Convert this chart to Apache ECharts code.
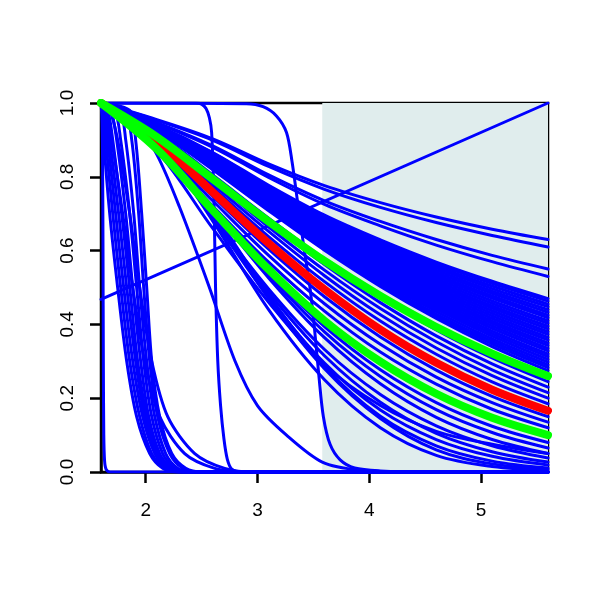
<!DOCTYPE html>
<html><head><meta charset="utf-8">
<script src="https://cdn.jsdelivr.net/npm/echarts@6/dist/echarts.min.js"></script>
<style>html,body{margin:0;padding:0;background:#fff}#c{width:600px;height:600px}</style>
</head><body><div id="c"></div>
<script>
// ---- data ----
const xGrid = [1.6, 2.1, 2.6, 3.1, 3.6, 4.1, 4.6, 5.1, 5.6];
const xTicks = [2, 3, 4, 5];
const yTicks = [0, 0.2, 0.4, 0.6, 0.8, 1.0];
const shadeRange = [3.58, 5.6];

// main band of blue curves (values at xGrid)
const bandCurves = [
  [1,0.955,0.903,0.835,0.776,0.730,0.691,0.658,0.63],
  [1,0.953,0.899,0.828,0.766,0.717,0.676,0.641,0.61],
  [1,0.947,0.884,0.805,0.735,0.679,0.630,0.587,0.55],
  [1,0.945,0.880,0.798,0.725,0.667,0.615,0.570,0.53],
  [1,0.940,0.866,0.777,0.696,0.629,0.569,0.517,0.47],
  [1,0.939,0.864,0.774,0.693,0.625,0.564,0.511,0.463],
  [1,0.938,0.862,0.771,0.689,0.620,0.558,0.504,0.455],
  [1,0.938,0.861,0.769,0.686,0.616,0.553,0.497,0.448],
  [1,0.937,0.859,0.766,0.682,0.611,0.547,0.490,0.44],
  [1,0.937,0.857,0.764,0.679,0.606,0.541,0.484,0.433],
  [1,0.936,0.855,0.761,0.675,0.601,0.535,0.477,0.425],
  [1,0.936,0.854,0.759,0.671,0.597,0.530,0.471,0.418],
  [1,0.935,0.852,0.756,0.667,0.592,0.524,0.464,0.41],
  [1,0.935,0.850,0.753,0.664,0.587,0.518,0.457,0.403],
  [1,0.934,0.848,0.750,0.660,0.582,0.512,0.450,0.395],
  [1,0.933,0.847,0.748,0.657,0.578,0.507,0.444,0.388],
  [1,0.932,0.845,0.745,0.653,0.573,0.501,0.437,0.38],
  [1,0.932,0.843,0.743,0.650,0.568,0.495,0.430,0.373],
  [1,0.931,0.841,0.740,0.646,0.563,0.489,0.423,0.365],
  [1,0.931,0.840,0.738,0.643,0.559,0.483,0.416,0.358],
  [1,0.930,0.838,0.735,0.639,0.554,0.477,0.409,0.35],
  [1,0.930,0.836,0.733,0.635,0.549,0.471,0.403,0.343],
  [1,0.929,0.834,0.730,0.631,0.544,0.465,0.396,0.335],
  [1,0.929,0.832,0.727,0.628,0.539,0.459,0.389,0.328],
  [1,0.928,0.830,0.724,0.624,0.534,0.453,0.382,0.32],
  [1,0.928,0.829,0.722,0.621,0.529,0.447,0.375,0.313],
  [1,0.927,0.827,0.719,0.617,0.524,0.441,0.368,0.305],
  [1,0.926,0.825,0.716,0.613,0.519,0.435,0.361,0.298],
  [1,0.925,0.823,0.713,0.609,0.513,0.428,0.354,0.29],
  [1,0.925,0.821,0.711,0.605,0.508,0.422,0.347,0.283],
  [1,0.924,0.819,0.708,0.601,0.503,0.416,0.340,0.275],
  [1,0.919,0.805,0.688,0.576,0.475,0.385,0.309,0.245],
  [1,0.915,0.797,0.677,0.562,0.459,0.369,0.293,0.23],
  [1,0.911,0.789,0.664,0.547,0.443,0.353,0.277,0.215],
  [1,0.907,0.780,0.652,0.532,0.426,0.336,0.261,0.20],
  [1,0.903,0.771,0.638,0.516,0.409,0.319,0.244,0.185],
  [1,0.892,0.747,0.604,0.475,0.366,0.276,0.205,0.15],
  [1,0.886,0.735,0.587,0.456,0.346,0.257,0.188,0.135],
  [1,0.880,0.721,0.569,0.436,0.325,0.238,0.170,0.12]
];

// lower family of blue curves (values at xGrid)
const lowerCurves = [
  [1,0.881,0.709,0.540,0.394,0.277,0.188,0.124,0.08],
  [1,0.886,0.711,0.534,0.380,0.259,0.169,0.107,0.065],
  [1,0.892,0.712,0.526,0.364,0.239,0.148,0.088,0.05],
  [1,0.883,0.690,0.496,0.332,0.210,0.125,0.071,0.038],
  [1,0.889,0.691,0.487,0.315,0.189,0.105,0.055,0.027],
  [1,0.891,0.687,0.473,0.295,0.168,0.088,0.0425,0.019],
  [1,0.908,0.707,0.480,0.286,0.151,0.071,0.0295,0.011],
  [1,0.900,0.700,0.470,0.280,0.145,0.060,0.022,0.008],
  [1,0.890,0.680,0.440,0.250,0.120,0.045,0.015,0.005],
  [1,0.870,0.660,0.460,0.290,0.180,0.110,0.075,0.05]
];

const redCurve = [1,0.897,0.758,0.620,0.495,0.386,0.296,0.223,0.166];
const greenCurves = [
  [1,0.908,0.794,0.679,0.572,0.477,0.393,0.321,0.260],
  [1,0.875,0.709,0.549,0.410,0.299,0.212,0.147,0.100]
];

// steep early curves: x position where each reaches the given survival level
const steepLevels = [1, 0.98, 0.9, 0.7, 0.5, 0.3, 0.15, 0.05, 0.01, 0];
const steepX = [
  [1.6,1.611,1.624,1.678,1.749,1.830,1.919,2.036,2.152,2.286],
  [1.6,1.620,1.642,1.705,1.776,1.857,1.946,2.054,2.170,2.304],
  [1.6,1.628,1.660,1.731,1.803,1.884,1.973,2.081,2.188,2.322],
  [1.6,1.642,1.678,1.758,1.830,1.910,1.991,2.090,2.197,2.331],
  [1.6,1.660,1.705,1.785,1.857,1.928,2.009,2.107,2.215,2.349],
  [1.6,1.687,1.740,1.821,1.884,1.955,2.027,2.125,2.233,2.367],
  [1.6,1.722,1.776,1.857,1.919,1.982,2.054,2.152,2.260,2.394],
  [1.6,1.767,1.821,1.893,1.946,2.009,2.081,2.179,2.286,2.421],
  [1.6,1.812,1.875,1.937,1.982,2.036,2.107,2.215,2.331,2.466],
  [1.6,1.857,1.910,1.964,2.009,2.054,2.125,2.233,2.358,2.501],
  [1.6,1.642,1.696,1.794,1.884,1.991,2.125,2.349,2.618,2.886],
  [1.6,1.678,1.749,1.857,1.946,2.054,2.197,2.439,2.707,2.976]
];

// sharp / irregular curves as [x, y] pairs
const edgeCurve = [[1.6,1],[1.608,0.96],[1.614,0.85],[1.618,0.6],[1.621,0.3],[1.625,0.1],[1.632,0.03],[1.645,0.008],[1.68,0],[5.6,0]];
const cliffCurveA = [[1.6,1],[2.45,1],[2.5,0.997],[2.54,0.985],[2.57,0.96],[2.59,0.92],[2.61,0.75],[2.625,0.5],[2.645,0.3],[2.67,0.18],[2.7,0.09],[2.73,0.035],[2.77,0.008],[2.85,0],[5.6,0]];
const cliffCurveB = [[1.6,1],[2.9,0.998],[3.05,0.99],[3.17,0.965],[3.26,0.92],[3.31,0.84],[3.36,0.73],[3.42,0.6],[3.47,0.5],[3.51,0.39],[3.55,0.26],[3.59,0.15],[3.65,0.075],[3.74,0.033],[3.87,0.011],[4.1,0.003],[4.5,0],[5.6,0]];
const midCurve = [[1.6,1],[1.9,0.95],[2.1,0.86],[2.3,0.72],[2.57,0.5],[2.8,0.3],[3.0,0.18],[3.26,0.10],[3.58,0.027],[3.92,0.005],[4.4,0],[5.6,0]];
const risingLine = [[1.6,0.468],[5.6,1.0]];

// ---- chart ----
const BLUE = '#0000ff', RED = '#ff0000', GREEN = '#00ff00';
const FONT = 'Liberation Sans, Arial, Helvetica, sans-serif';

function mk(data, color, width, z, smooth) {
  return {
    type: 'line', data: data, symbol: 'none', showSymbol: false, silent: true,
    smooth: smooth === undefined ? 0.35 : smooth, z: z, clip: true, animation: false,
    lineStyle: { color: color, width: width, cap: 'round', join: 'round' }
  };
}
const onGrid = arr => xGrid.map((x, i) => [x, arr[i]]);

const series = [];
series.push({
  type: 'line', data: [[shadeRange[0], 0]], symbol: 'none', silent: true, z: 1,
  lineStyle: { width: 0, opacity: 0 },
  markArea: { silent: true, itemStyle: { color: '#e0eded' },
    data: [[{ xAxis: shadeRange[0], yAxis: 0 }, { xAxis: shadeRange[1], yAxis: 1 }]] }
});
steepX.forEach(xs => series.push(mk(xs.map((x, i) => [x, steepLevels[i]]).concat([[5.6, 0]]), BLUE, 3, 2, 0.3)));
[edgeCurve, cliffCurveA, cliffCurveB, midCurve].forEach(c => series.push(mk(c, BLUE, 3, 2, 0.3)));
series.push(mk(risingLine, BLUE, 3, 2, false));
lowerCurves.forEach(c => series.push(mk(onGrid(c), BLUE, 3, 2)));
bandCurves.forEach(c => series.push(mk(onGrid(c), BLUE, 3, 2)));
series.push(mk(onGrid(redCurve), RED, 8, 3));
greenCurves.forEach(c => series.push(mk(onGrid(c), GREEN, 8, 3)));

const chart = echarts.init(document.getElementById('c'), null, { renderer: 'canvas' });
chart.setOption({
  animation: false,
  backgroundColor: '#ffffff',
  grid: { left: 101, top: 103, width: 447, height: 369, show: true, borderColor: '#000', borderWidth: 2.5, backgroundColor: 'transparent' },
  xAxis: {
    type: 'value', min: 1.6, max: 5.6,
    splitLine: { show: false },
    axisLine: { show: true, lineStyle: { color: '#000', width: 2.5 } },
    axisTick: { show: true, length: 11, customValues: xTicks, lineStyle: { color: '#000', width: 2.5 } },
    axisLabel: { customValues: xTicks, margin: 29, color: '#000', fontSize: 19, fontFamily: FONT,
      formatter: v => String(v) }
  },
  yAxis: {
    type: 'value', min: 0, max: 1, interval: 0.2,
    splitLine: { show: false },
    axisLine: { show: true, lineStyle: { color: '#000', width: 2.5 } },
    axisTick: { show: true, length: 11, customValues: yTicks, lineStyle: { color: '#000', width: 2.5 } },
    axisLabel: { customValues: yTicks, rotate: 90, margin: 24, color: '#000', fontSize: 19, fontFamily: FONT,
      formatter: v => Number(v).toFixed(1) }
  },
  series: series
});
</script></body></html>
